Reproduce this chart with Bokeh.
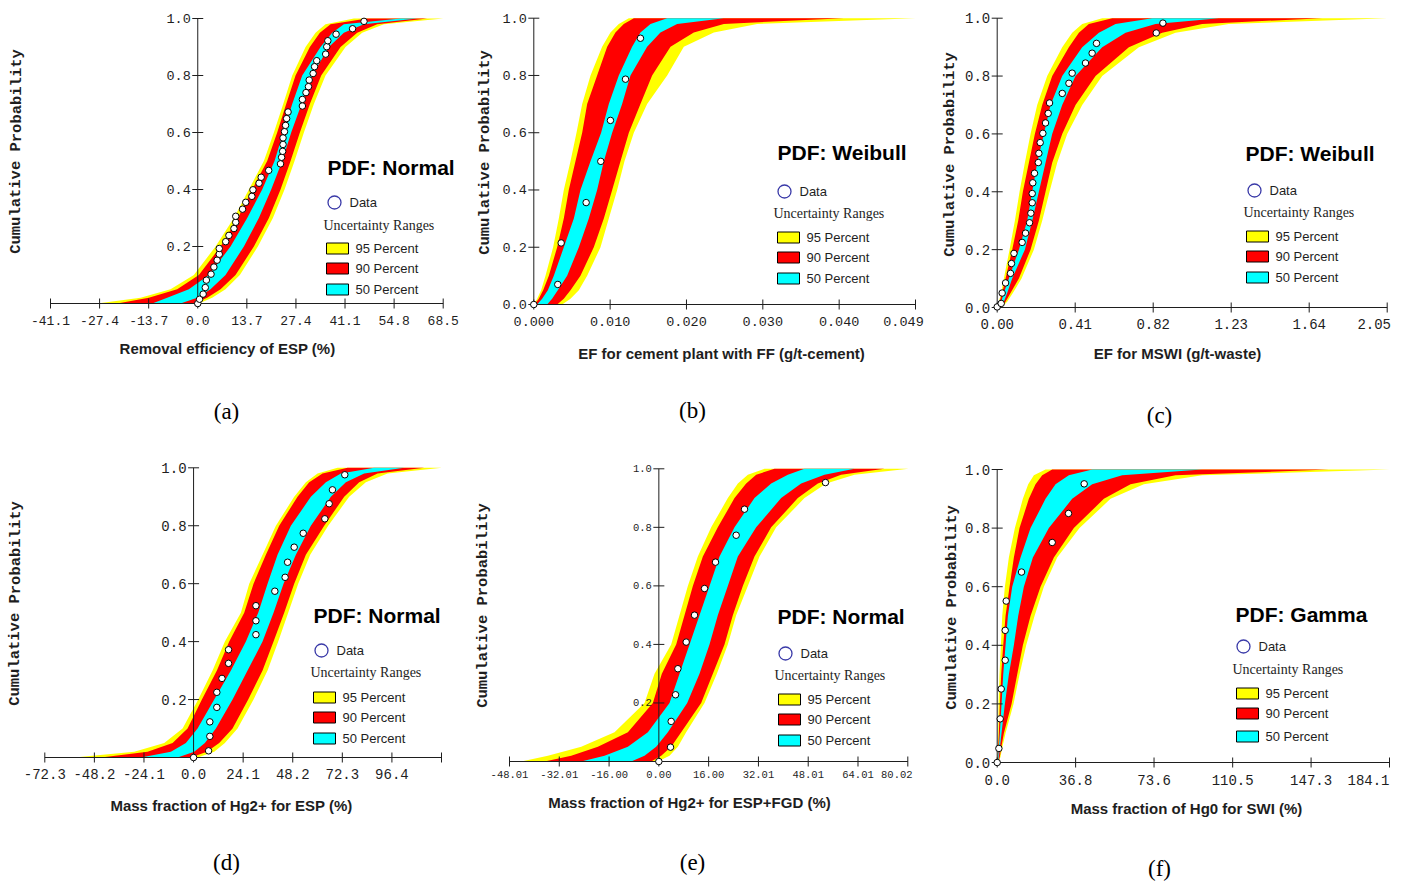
from bokeh.plotting import figure
from bokeh.models import Label, Range1d
from bokeh.layouts import row, column
from bokeh.embed import file_html
from bokeh.resources import INLINE
from bokeh.core.properties import value

# ---------------- data ----------------
P_LEVELS = [0.0, 0.02, 0.05, 0.1, 0.2, 0.3, 0.4, 0.5, 0.6, 0.7, 0.8, 0.9, 0.95, 0.98, 1.0]

# (a) Removal efficiency of ESP
A_95_LO = [-28.07, -15.97, -7.60, -1.09, 4.96, 10.08, 14.26, 18.45, 21.24, 23.85, 26.36, 30.08, 32.87, 35.66, 43.57]
A_90_LO = [-22.49, -13.67, -5.74, 0.31, 6.36, 11.20, 15.20, 19.38, 22.17, 24.68, 27.29, 31.29, 34.08, 37.06, 47.29]
A_50_LO = [-12.72, -8.53, -2.48, 3.10, 9.15, 13.80, 17.98, 21.43, 23.85, 26.36, 29.15, 34.27, 37.52, 40.78, 56.62]
A_50_HI = [-4.81, -0.16, 3.56, 7.75, 12.87, 17.05, 20.50, 23.57, 26.08, 28.96, 31.94, 36.59, 40.78, 46.36, 61.25]
A_90_HI = [-1.09, 2.63, 6.36, 10.54, 15.66, 19.85, 23.10, 25.90, 28.50, 31.29, 34.45, 39.85, 44.50, 50.08, 64.04]
A_95_HI = [0.31, 4.03, 7.75, 11.75, 16.78, 20.97, 24.22, 27.01, 29.62, 32.41, 35.66, 41.24, 45.89, 51.94, 68.50]
A_DATA_X = [0.0, 0.5, 1.5, 2.1, 2.4, 3.7, 4.5, 5.4, 6.0, 6.0, 7.8, 8.7, 10.1, 10.6, 10.6, 12.5, 13.4, 15.1, 15.4,
            17.1, 17.7, 19.8, 23.1, 23.4, 23.7, 23.8, 23.8, 24.2, 24.5, 24.8, 25.2, 29.2, 29.2, 30.2, 30.9, 31.1,
            32.2, 32.6, 33.2, 35.7, 36.0, 36.3, 38.6, 43.2, 46.4]
A_DATA_P = [0.0, 0.015, 0.033, 0.056, 0.082, 0.103, 0.128, 0.152, 0.173, 0.193, 0.217, 0.239, 0.263, 0.285, 0.306,
            0.331, 0.355, 0.376, 0.399, 0.422, 0.443, 0.467, 0.490, 0.513, 0.534, 0.558, 0.581, 0.603, 0.625, 0.649,
            0.672, 0.693, 0.716, 0.740, 0.761, 0.784, 0.807, 0.831, 0.852, 0.875, 0.901, 0.922, 0.945, 0.964, 0.990]
A_XTICKS = [-41.1, -27.4, -13.7, 0.0, 13.7, 27.4, 41.1, 54.8, 68.5]
A_XLABELS = ["-41.1", "-27.4", "-13.7", "0.0", "13.7", "27.4", "41.1", "54.8", "68.5"]
A_YTICKS = [0.2, 0.4, 0.6, 0.8, 1.0]
A_YLABELS = ["0.2", "0.4", "0.6", "0.8", "1.0"]

# (b) EF for cement plant with FF
B_95_LO = [0.0, 0.00043, 0.00094, 0.00150, 0.00248, 0.00321, 0.00385, 0.00471, 0.00548, 0.00621, 0.00728, 0.00877, 0.00984, 0.01091, 0.01220]
B_90_LO = [0.00009, 0.00064, 0.00120, 0.00193, 0.00300, 0.00385, 0.00449, 0.00535, 0.00621, 0.00685, 0.00813, 0.00942, 0.01048, 0.01155, 0.01284]
B_50_LO = [0.00043, 0.00107, 0.00180, 0.00257, 0.00385, 0.00514, 0.00599, 0.00728, 0.00864, 0.00963, 0.01091, 0.01262, 0.01369, 0.01498, 0.01712]
B_50_HI = [0.00171, 0.00235, 0.00308, 0.00428, 0.00578, 0.00706, 0.00813, 0.00899, 0.01006, 0.01134, 0.01241, 0.01455, 0.01626, 0.01840, 0.02439]
B_90_HI = [0.00300, 0.00385, 0.00471, 0.00599, 0.00770, 0.00899, 0.01006, 0.01113, 0.01220, 0.01369, 0.01519, 0.01755, 0.02054, 0.02439, 0.03980]
B_95_HI = [0.00364, 0.00471, 0.00578, 0.00685, 0.00856, 0.00963, 0.01070, 0.01164, 0.01284, 0.01455, 0.01712, 0.01926, 0.02311, 0.02867, 0.04900]
B_DATA_X = [0.0, 0.00308, 0.00351, 0.00672, 0.00860, 0.00984, 0.01177, 0.01369]
B_DATA_P = [0.0, 0.070, 0.215, 0.356, 0.500, 0.643, 0.787, 0.930]
B_XTICKS = [0.0, 0.0098, 0.0196, 0.0294, 0.0392, 0.049]
B_XLABELS = ["0.000", "0.010", "0.020", "0.030", "0.040", "0.049"]
B_YTICKS = [0.0, 0.2, 0.4, 0.6, 0.8, 1.0]
B_YLABELS = ["0.0", "0.2", "0.4", "0.6", "0.8", "1.0"]

# (c) EF for MSWI
C_95_LO = [0.0, 0.0088, 0.0210, 0.0350, 0.0648, 0.0929, 0.1174, 0.1454, 0.1752, 0.2102, 0.2628, 0.3417, 0.3942, 0.4468, 0.5519]
C_90_LO = [0.0018, 0.0123, 0.0263, 0.0438, 0.0788, 0.1104, 0.1349, 0.1665, 0.1980, 0.2365, 0.2891, 0.3767, 0.4293, 0.4818, 0.6045]
C_50_LO = [0.0053, 0.0210, 0.0350, 0.0613, 0.1139, 0.1577, 0.1840, 0.2103, 0.2453, 0.2803, 0.3417, 0.4468, 0.5344, 0.6220, 0.8147]
C_50_HI = [0.0123, 0.0350, 0.0526, 0.0788, 0.1454, 0.1840, 0.2190, 0.2541, 0.2891, 0.3417, 0.4117, 0.5519, 0.6746, 0.8322, 1.1651]
C_90_HI = [0.0175, 0.0438, 0.0701, 0.1139, 0.1752, 0.2190, 0.2541, 0.2891, 0.3417, 0.4117, 0.5169, 0.6921, 0.8673, 1.0775, 1.7083]
C_95_HI = [0.0228, 0.0526, 0.0823, 0.1279, 0.1927, 0.2365, 0.2751, 0.3154, 0.3679, 0.4468, 0.5519, 0.7446, 0.9374, 1.2177, 2.05]
C_DATA_X = [0.0, 0.021, 0.026, 0.044, 0.070, 0.075, 0.088, 0.131, 0.149, 0.170, 0.177, 0.184, 0.184, 0.187, 0.196,
            0.216, 0.219, 0.226, 0.240, 0.254, 0.268, 0.275, 0.342, 0.377, 0.394, 0.464, 0.499, 0.522, 0.836, 0.871]
C_DATA_P = [0.002, 0.014, 0.050, 0.085, 0.118, 0.152, 0.187, 0.225, 0.257, 0.293, 0.326, 0.362, 0.394, 0.431, 0.464,
            0.501, 0.533, 0.570, 0.602, 0.638, 0.671, 0.707, 0.740, 0.775, 0.810, 0.845, 0.879, 0.913, 0.949, 0.983]
C_XTICKS = [0.0, 0.41, 0.82, 1.23, 1.64, 2.05]
C_XLABELS = ["0.00", "0.41", "0.82", "1.23", "1.64", "2.05"]
C_YTICKS = [0.0, 0.2, 0.4, 0.6, 0.8, 1.0]
C_YLABELS = ["0.0", "0.2", "0.4", "0.6", "0.8", "1.0"]

# (d) Mass fraction of Hg2+ for ESP
D_95_LO = [-57.98, -28.83, -14.25, -5.34, 2.27, 9.23, 15.22, 23.00, 27.05, 33.53, 40.00, 48.91, 54.58, 60.25, 69.97]
D_90_LO = [-45.02, -22.35, -10.20, -2.92, 4.05, 11.34, 17.33, 24.62, 29.15, 35.15, 41.62, 50.53, 56.20, 62.68, 74.83]
D_50_LO = [-25.59, -11.01, -3.73, 1.94, 10.04, 18.14, 25.43, 31.42, 35.96, 40.81, 47.29, 57.01, 64.30, 71.59, 87.78]
D_50_HI = [-7.77, 0.32, 5.51, 10.85, 18.95, 26.24, 33.53, 38.87, 43.73, 49.72, 57.01, 66.73, 74.02, 82.92, 102.36]
D_90_HI = [-1.30, 6.48, 12.47, 18.95, 26.56, 33.53, 38.87, 44.05, 48.91, 54.58, 63.49, 73.21, 80.50, 89.40, 112.08]
D_95_HI = [1.94, 10.04, 15.22, 21.38, 29.15, 35.96, 41.14, 46.00, 50.86, 56.69, 65.43, 75.64, 83.73, 94.26, 120.66]
D_DATA_X = [0.0, 7.3, 7.9, 7.9, 11.3, 11.3, 13.8, 17.0, 17.0, 30.3, 30.3, 30.3, 39.5, 44.5, 45.7, 48.9, 53.3, 63.8, 65.9, 67.5, 73.5]
D_DATA_P = [0.0, 0.023, 0.073, 0.123, 0.173, 0.225, 0.273, 0.325, 0.372, 0.424, 0.472, 0.524, 0.574, 0.622, 0.674, 0.726, 0.774, 0.824, 0.876, 0.924, 0.976]
D_XTICKS = [-72.3, -48.2, -24.1, 0.0, 24.1, 48.2, 72.3, 96.4, 120.5]
D_XLABELS = ["-72.3", "-48.2", "-24.1", "0.0", "24.1", "48.2", "72.3", "96.4", ""]
D_YTICKS = [0.2, 0.4, 0.6, 0.8, 1.0]
D_YLABELS = ["0.2", "0.4", "0.6", "0.8", "1.0"]

# (e) Mass fraction of Hg2+ for ESP+FGD
E_95_LO = [-44.24, -35.67, -24.96, -14.25, -4.61, -1.39, 3.96, 6.64, 9.32, 12.53, 16.82, 22.17, 25.39, 28.60, 33.96]
E_90_LO = [-36.74, -28.17, -19.60, -9.96, -1.93, 0.96, 5.57, 8.25, 10.93, 14.14, 18.96, 24.32, 28.07, 31.28, 37.17]
E_50_LO = [-24.96, -17.46, -9.96, -3.53, 3.43, 6.64, 9.86, 13.07, 16.28, 19.50, 24.32, 30.74, 36.10, 41.46, 46.81]
E_50_HI = [-8.89, -4.61, -0.86, 2.89, 9.11, 13.07, 16.28, 18.96, 22.17, 25.39, 31.28, 39.31, 45.74, 53.24, 62.88]
E_90_HI = [-2.46, 0.75, 3.96, 7.18, 13.60, 17.35, 21.10, 23.78, 26.99, 30.74, 36.10, 44.67, 51.10, 58.59, 72.52]
E_95_HI = [-0.32, 3.43, 6.11, 8.78, 14.68, 18.64, 22.17, 24.85, 28.60, 32.35, 37.71, 46.81, 53.77, 62.88, 80.23]
E_DATA_X = [0.0, 3.75, 3.96, 5.36, 6.11, 8.78, 11.46, 14.68, 18.21, 24.85, 27.53, 53.56]
E_DATA_P = [0.0, 0.049, 0.137, 0.228, 0.317, 0.408, 0.500, 0.591, 0.681, 0.773, 0.862, 0.953]
E_XTICKS = [-48.01, -32.01, -16.0, 0.0, 16.0, 32.01, 48.01, 64.01, 80.02]
E_XLABELS = ["-48.01", "-32.01", "-16.00", "0.00", "16.00", "32.01", "48.01", "64.01", "80.02"]
E_YTICKS = [0.2, 0.4, 0.6, 0.8, 1.0]
E_YLABELS = ["0.2", "0.4", "0.6", "0.8", "1.0"]

# (f) Mass fraction of Hg0 for SWI
F_95_LO = [0.0, 0.16, 0.31, 0.47, 0.63, 1.09, 1.72, 2.35, 3.60, 5.47, 8.29, 12.04, 14.55, 17.21, 22.68]
F_90_LO = [0.0, 0.31, 0.47, 0.78, 1.25, 1.88, 2.82, 3.91, 5.79, 7.82, 10.48, 14.86, 17.99, 21.12, 25.81]
F_50_LO = [0.16, 0.47, 0.78, 1.25, 2.03, 2.82, 3.91, 5.01, 7.04, 10.95, 15.64, 22.68, 27.37, 33.63, 44.58]
F_50_HI = [0.31, 0.78, 1.25, 2.03, 3.60, 5.47, 7.82, 9.85, 12.51, 16.74, 24.24, 35.19, 44.58, 58.65, 96.19]
F_90_HI = [0.47, 1.25, 1.88, 3.13, 6.73, 9.38, 12.04, 15.64, 20.33, 26.59, 35.97, 50.05, 62.56, 83.68, 155.63]
F_95_HI = [0.63, 1.56, 2.35, 3.91, 7.66, 10.48, 13.61, 17.52, 21.90, 28.15, 38.63, 53.18, 68.82, 96.19, 184.10]
F_DATA_X = [0.0, 0.78, 1.41, 1.88, 3.75, 3.75, 4.22, 11.42, 25.81, 33.47, 40.82]
F_DATA_P = [0.0, 0.048, 0.149, 0.251, 0.349, 0.451, 0.551, 0.650, 0.751, 0.850, 0.951]
F_XTICKS = [0.0, 36.8, 73.6, 110.5, 147.3, 184.1]
F_XLABELS = ["0.0", "36.8", "73.6", "110.5", "147.3", "184.1"]
F_YTICKS = [0.0, 0.2, 0.4, 0.6, 0.8, 1.0]
F_YLABELS = ["0.0", "0.2", "0.4", "0.6", "0.8", "1.0"]

X_TITLES = ["Removal efficiency of ESP (%)", "EF for cement plant with FF (g/t-cement)",
            "EF for MSWI (g/t-waste)", "Mass fraction of Hg2+ for ESP (%)",
            "Mass fraction of Hg2+ for ESP+FGD (%)", "Mass fraction of Hg0 for SWI (%)"]
PDF_NAMES = ["PDF: Normal", "PDF: Weibull", "PDF: Weibull", "PDF: Normal", "PDF: Normal", "PDF: Gamma"]
PANEL_TAGS = ["(a)", "(b)", "(c)", "(d)", "(e)", "(f)"]
RANGE_NAMES = ["95 Percent", "90 Percent", "50 Percent"]
RANGE_COLORS = ["#ffff00", "#ff0000", "#00ffff"]

# ---------------- layout (page pixels) ----------------
SANS, SERIF, MONO = "Liberation Sans", "Liberation Serif", "Liberation Mono"
INK = "#1e1e1e"

LAYOUT = [
    dict(L=0, T=0, W=473, H=457, xa=(-41.1, 50.0), xb=(68.5, 442.7), py1=18.0, py0=303.0, tick_fs=13, ytick_fs=13.5, xoff=17, last_dx=0,
         pdf=(327, 167), circ=(334, 202), ur=(323, 225), box_x=326, box_y=(248, 268, 289),
         xt=(227, 348), tag=(226, 411), yl=(16, 151)),
    dict(L=473, T=0, W=465, H=457, xa=(0.0, 533.3), xb=(0.049, 915.0), py1=17.7, py0=304.0, tick_fs=13.5, ytick_fs=13.5, xoff=17, last_dx=-12,
         pdf=(777, 152), circ=(784, 191), ur=(773, 213), box_x=777, box_y=(237, 257, 278),
         xt=(721, 353), tag=(692, 410), yl=(484, 152)),
    dict(L=938, T=0, W=471, H=457, xa=(0.0, 996.7), xb=(2.05, 1386.7), py1=17.7, py0=307.0, tick_fs=14, ytick_fs=14, xoff=16, last_dx=-13,
         pdf=(1245, 153), circ=(1254, 190), ur=(1243, 212), box_x=1246, box_y=(236, 256, 277),
         xt=(1177, 353), tag=(1159, 415), yl=(949, 154)),
    dict(L=0, T=457, W=473, H=430, xa=(-72.3, 44.3), xb=(120.5, 441.0), py1=467.3, py0=757.0, tick_fs=14, ytick_fs=14, xoff=16, last_dx=0,
         pdf=(313, 615), circ=(321, 650), ur=(310, 672), box_x=313, box_y=(697, 717, 738),
         xt=(231, 805), tag=(226, 862), yl=(15, 603)),
    dict(L=473, T=457, W=465, H=430, xa=(-48.01, 509.0), xb=(80.02, 907.3), py1=468.3, py0=761.0, tick_fs=10.5, ytick_fs=10.5, xoff=13, last_dx=-11,
         pdf=(777, 616), circ=(785, 653), ur=(774, 675), box_x=778, box_y=(699, 719, 740),
         xt=(689, 802), tag=(692, 862), yl=(482, 605)),
    dict(L=938, T=457, W=471, H=430, xa=(0.0, 996.7), xb=(184.1, 1389.0), py1=469.0, py0=762.0, tick_fs=14, ytick_fs=14, xoff=17, last_dx=-21,
         pdf=(1235, 614), circ=(1243, 646), ur=(1232, 669), box_x=1236, box_y=(693, 713, 736),
         xt=(1186, 808), tag=(1159, 868), yl=(951, 607)),
]

PANEL_DATA = [
    (A_95_LO, A_95_HI, A_90_LO, A_90_HI, A_50_LO, A_50_HI, A_DATA_X, A_DATA_P, A_XTICKS, A_XLABELS, A_YTICKS, A_YLABELS),
    (B_95_LO, B_95_HI, B_90_LO, B_90_HI, B_50_LO, B_50_HI, B_DATA_X, B_DATA_P, B_XTICKS, B_XLABELS, B_YTICKS, B_YLABELS),
    (C_95_LO, C_95_HI, C_90_LO, C_90_HI, C_50_LO, C_50_HI, C_DATA_X, C_DATA_P, C_XTICKS, C_XLABELS, C_YTICKS, C_YLABELS),
    (D_95_LO, D_95_HI, D_90_LO, D_90_HI, D_50_LO, D_50_HI, D_DATA_X, D_DATA_P, D_XTICKS, D_XLABELS, D_YTICKS, D_YLABELS),
    (E_95_LO, E_95_HI, E_90_LO, E_90_HI, E_50_LO, E_50_HI, E_DATA_X, E_DATA_P, E_XTICKS, E_XLABELS, E_YTICKS, E_YLABELS),
    (F_95_LO, F_95_HI, F_90_LO, F_90_HI, F_50_LO, F_50_HI, F_DATA_X, F_DATA_P, F_XTICKS, F_XLABELS, F_YTICKS, F_YLABELS),
]


def build(i):
    c = LAYOUT[i]
    (y95lo, y95hi, r90lo, r90hi, c50lo, c50hi, dx, dp, xt, xl, yt, yl) = PANEL_DATA[i]
    kx = (c["xb"][1] - c["xa"][1]) / (c["xb"][0] - c["xa"][0])
    xs = c["xa"][0] - (c["xa"][1] - c["L"]) / kx
    xe = xs + c["W"] / kx
    ky = c["py0"] - c["py1"]

    def fx(px):
        return xs + (px - c["L"]) / kx

    def fy(py):
        return (c["py0"] - py) / ky

    p = figure(width=c["W"], height=c["H"], output_backend="svg", toolbar_location=None,
               x_range=Range1d(xs, xe), y_range=Range1d(fy(c["T"] + c["H"]), fy(c["T"])),
               x_axis_location=None, y_axis_location=None,
               min_border_left=0, min_border_right=0, min_border_top=0, min_border_bottom=0)
    p.outline_line_color = None
    p.grid.visible = False
    p.background_fill_color = "white"
    p.border_fill_color = "white"

    # uncertainty bands
    p.harea(y=P_LEVELS, x1=y95lo, x2=y95hi, fill_color=RANGE_COLORS[0])
    p.harea(y=P_LEVELS, x1=r90lo, x2=r90hi, fill_color=RANGE_COLORS[1])
    p.harea(y=P_LEVELS, x1=c50lo, x2=c50hi, fill_color=RANGE_COLORS[2])

    # x axis (drawn along p = 0)
    n = len(xt)
    tk = 5.0 / ky
    p.segment(x0=[xt[0]], y0=[0], x1=[xt[-1]], y1=[0], line_color=INK, line_width=1)
    p.segment(x0=xt, y0=[-tk] * n, x1=xt, y1=[tk] * n, line_color=INK, line_width=1)
    offs = [0] * (n - 1) + [c["last_dx"]]
    p.text(x=xt, y=[fy(c["py0"] + c["xoff"])] * n, text=xl, x_offset=offs, text_align="center",
           text_baseline="middle", text_font=value(MONO), text_font_size=f"{c['tick_fs']}px", text_color=INK)

    # y axis drawn at x = 0
    p.segment(x0=[0], y0=[0], x1=[0], y1=[1.0], line_color=INK, line_width=1)
    p.scatter(x=[0] * len(yt), y=yt, marker="dash", size=11, line_color=INK, line_width=1)
    p.text(x=[0] * len(yt), y=yt, text=yl, x_offset=-7, text_align="right", text_baseline="middle",
           text_font=value(MONO), text_font_size=f"{c['ytick_fs']}px", text_color=INK)

    # data points
    p.scatter(x=dx, y=dp, marker="circle", size=6.5, fill_color="white", line_color="black", line_width=1)

    # texts
    p.add_layout(Label(x=fx(c["xt"][0]), y=fy(c["xt"][1]), text=X_TITLES[i], text_font=SANS,
                       text_font_style="bold", text_font_size="15px", text_align="center",
                       text_baseline="middle", text_color=INK))
    p.add_layout(Label(x=fx(c["tag"][0]), y=fy(c["tag"][1]), text=PANEL_TAGS[i], text_font=SERIF,
                       text_font_size="23px", text_align="center", text_baseline="middle", text_color="black"))
    p.add_layout(Label(x=fx(c["yl"][0]), y=fy(c["yl"][1]), text="Cumulative Probability", text_font=MONO,
                       text_font_style="bold", text_font_size="15.5px", text_align="center",
                       text_baseline="middle", angle=1.5707963, text_color=INK))
    p.add_layout(Label(x=fx(c["pdf"][0]), y=fy(c["pdf"][1]), text=PDF_NAMES[i], text_font=SANS,
                       text_font_style="bold", text_font_size="21px", text_align="left",
                       text_baseline="middle", text_color="black"))
    # legend
    p.scatter(x=[fx(c["circ"][0])], y=[fy(c["circ"][1])], marker="circle", size=13,
              fill_color=None, line_color="#3a3aa8", line_width=1.3)
    p.add_layout(Label(x=fx(c["circ"][0] + 15), y=fy(c["circ"][1]), text="Data", text_font=SANS,
                       text_font_size="13px", text_align="left", text_baseline="middle", text_color=INK))
    p.add_layout(Label(x=fx(c["ur"][0]), y=fy(c["ur"][1]), text="Uncertainty Ranges", text_font=SERIF,
                       text_font_size="14px", text_align="left", text_baseline="middle", text_color=INK))
    bx = [fx(c["box_x"] + 11)] * 3
    by = [fy(v) for v in c["box_y"]]
    p.rect(x=bx, y=by, width=22, height=11, width_units="screen", height_units="screen",
           fill_color=RANGE_COLORS, line_color="black", line_width=1)
    for name, yy in zip(RANGE_NAMES, c["box_y"]):
        p.add_layout(Label(x=fx(c["box_x"] + 29), y=fy(yy), text=name, text_font=SANS,
                           text_font_size="13px", text_align="left", text_baseline="middle", text_color=INK))
    return p


figs = [build(i) for i in range(6)]
layout = column(row(figs[0], figs[1], figs[2]), row(figs[3], figs[4], figs[5]))
open("out.html", "w").write(file_html(layout, INLINE))
